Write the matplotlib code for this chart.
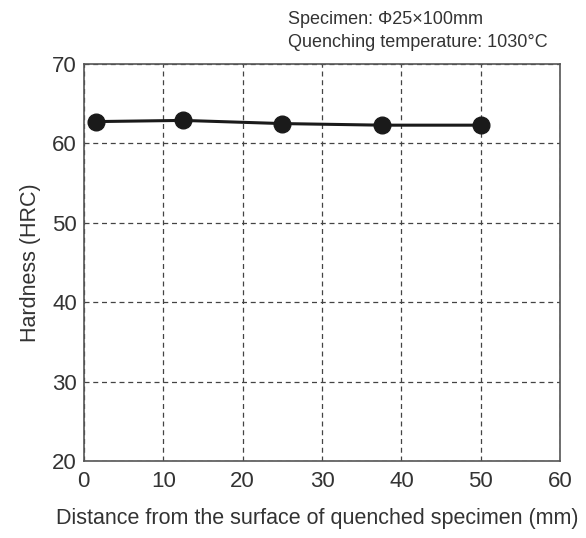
import matplotlib.pyplot as plt

# data
distance = [1.5, 12.5, 25, 37.5, 50]
hardness = [62.75, 62.9, 62.5, 62.3, 62.3]
xticks = [0, 10, 20, 30, 40, 50, 60]
yticks = [20, 30, 40, 50, 60, 70]

plt.rcParams['font.family'] = ['Liberation Sans', 'DejaVu Sans']
txt = '#333333'

fig = plt.figure(figsize=(5.86, 5.38), dpi=100)
ax = fig.add_axes([0.143, 0.143, 0.813, 0.738])

ax.plot(distance, hardness, color='#1a1a1a', lw=2.2, marker='o', ms=12,
        markerfacecolor='#1a1a1a', markeredgecolor='#1a1a1a', zorder=3)

ax.set_xlim(0, 60)
ax.set_ylim(20, 70)
ax.set_xticks(xticks)
ax.set_yticks(yticks)
ax.tick_params(length=0, labelsize=16, colors=txt)
ax.tick_params(axis='x', pad=7)
ax.tick_params(axis='y', pad=5)
ax.grid(True, ls=(0, (4, 3)), color='#444444', lw=0.9)
for s in ax.spines.values():
    s.set_color('#555555')
    s.set_linewidth(1.2)

ax.set_xlabel('Distance from the surface of quenched specimen (mm)',
              fontsize=15.5, color=txt)
ax.xaxis.set_label_coords(0.49, -0.118, transform=ax.transAxes)
ax.xaxis.label.set_va('top')
ax.set_ylabel('Hardness (HRC)', fontsize=15.5, color=txt, labelpad=8)

fig.text(288 / 586, 1 - 24 / 538, 'Specimen: \u03a625\u00d7100mm',
         fontsize=13, color=txt, va='baseline')
fig.text(288 / 586, 1 - 47 / 538, 'Quenching temperature: 1030\u00b0C',
         fontsize=13, color=txt, va='baseline')

fig.savefig('out.png', dpi=100)
